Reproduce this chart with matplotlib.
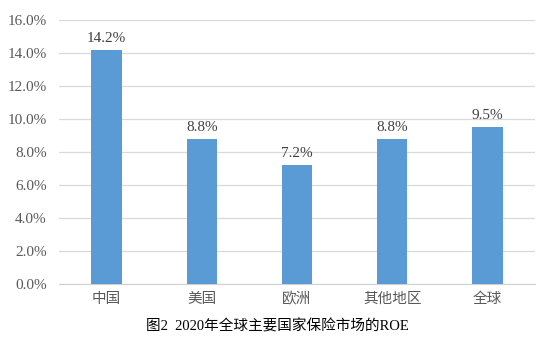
import matplotlib
matplotlib.use("Agg")
import matplotlib.pyplot as plt
from matplotlib.ticker import FuncFormatter

categories = ["中国", "美国", "欧洲", "其他地区", "全球"]
roe = [14.2, 8.8, 7.2, 8.8, 9.5]
yticks = [0, 2, 4, 6, 8, 10, 12, 14, 16]
title = "图2  2020年全球主要国家保险市场的ROE"

fig = plt.figure(figsize=(5.5, 3.5), dpi=100)
ax = fig.add_axes([59/550, 1-284/350, (535-59)/550, (284-20)/350])

x = range(len(categories))
ax.bar(x, roe, width=0.32, color="#5B9BD5", zorder=3)
ax.set_xlim(-0.5, len(categories)-0.5)
ax.set_ylim(0, 16)
ax.set_yticks(yticks)
ax.yaxis.set_major_formatter(FuncFormatter(lambda v, p: f"{v:.1f}%"))
ax.grid(axis="y", color="#D9D9D9", linewidth=0.9, zorder=0)
for s in ["top", "right", "left"]:
    ax.spines[s].set_visible(False)
ax.spines["bottom"].set_color("#D0D0D0")
ax.tick_params(axis="both", length=0, colors="#595959")
ax.tick_params(axis="y", pad=9)
ax.tick_params(axis="x", pad=6)
ax.set_xticks(list(x))
ax.set_xticklabels(categories, family=["Noto Sans CJK SC", "DejaVu Sans"], fontsize=10.5, color="#595959")
for lbl in ax.get_yticklabels():
    lbl.set_family("Liberation Serif")
    lbl.set_fontsize(11)

for xi, v in zip(x, roe):
    ax.text(xi, v + 0.3, f"{v:.1f}%", ha="center", va="bottom",
            family="Liberation Serif", fontsize=11, color="#404040")

fig.text(277/550, 1-326/350, title, ha="center", va="center",
         family=["Liberation Serif", "Noto Sans CJK SC"], fontsize=10.5, color="#000000")

fig.savefig("out.png", dpi=100)
